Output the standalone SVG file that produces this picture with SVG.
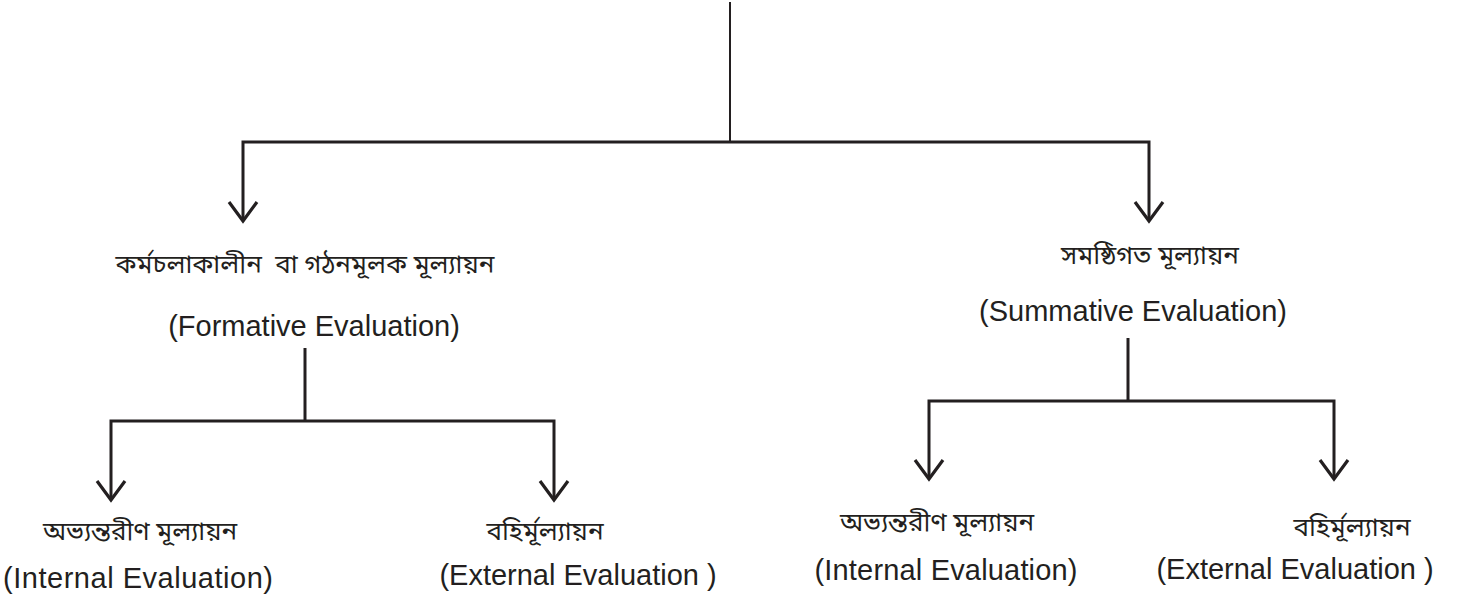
<svg xmlns="http://www.w3.org/2000/svg" width="1466" height="594" viewBox="0 0 1466 594">
<style>
.ln{fill:none;stroke:#231f20;stroke-width:3;stroke-linejoin:miter}
.thin{stroke-width:2}
.bn{font-family:"Noto Sans Bengali","Noto Serif Bengali","Lohit Bengali","FreeSerif","Noto Sans",sans-serif;font-size:26px;fill:#231f20;text-anchor:middle;white-space:pre}
.en{font-family:"Liberation Sans",Arial,sans-serif;font-size:29px;fill:#231f20;text-anchor:middle}
</style>
<defs>
<marker id="arr" markerUnits="userSpaceOnUse" viewBox="-22 -17 26 34" refX="0" refY="0" markerWidth="26" markerHeight="34" orient="auto-start-reverse" overflow="visible">
<path d="M-19,-14 L0,0 L-19,14" fill="none" stroke="#231f20" stroke-width="3.2"/>
</marker>
</defs>
<rect width="1466" height="594" fill="#ffffff"/>
<g id="connectors">
<path class="ln thin" d="M730,2 V142"/>
<path class="ln" d="M243,221 V142 H1149 V221" marker-start="url(#arr)" marker-end="url(#arr)"/>
<path class="ln" d="M305,348 V421"/>
<path class="ln" d="M111,500 V421 H554 V500" marker-start="url(#arr)" marker-end="url(#arr)"/>
<path class="ln" d="M1128,338 V401"/>
<path class="ln" d="M929,479 V401 H1334 V479" marker-start="url(#arr)" marker-end="url(#arr)"/>
</g>
<g id="formative">
<text class="bn" x="305" y="273" xml:space="preserve">কর্মচলাকালীন  বা গঠনমূলক মূল্যায়ন</text>
<text class="en" x="314" y="336">(Formative Evaluation)</text>
</g>
<g id="summative">
<text class="bn" x="1150" y="264">সমষ্ঠিগত মূল্যায়ন</text>
<text class="en" x="1133" y="321">(Summative Evaluation)</text>
</g>
<g id="formative-internal">
<text class="bn" x="140" y="540">অভ্যন্তরীণ মূল্যায়ন</text>
<text class="en" x="138" y="588" textLength="270" lengthAdjust="spacing">(Internal Evaluation)</text>
</g>
<g id="formative-external">
<text class="bn" x="545" y="540">বহির্মূল্যায়ন</text>
<text class="en" x="578" y="585">(External Evaluation )</text>
</g>
<g id="summative-internal">
<text class="bn" x="937" y="531">অভ্যন্তরীণ মূল্যায়ন</text>
<text class="en" x="946" y="580" textLength="263" lengthAdjust="spacing">(Internal Evaluation)</text>
</g>
<g id="summative-external">
<text class="bn" x="1352" y="536">বহির্মূল্যায়ন</text>
<text class="en" x="1295" y="579">(External Evaluation )</text>
</g>
</svg>
